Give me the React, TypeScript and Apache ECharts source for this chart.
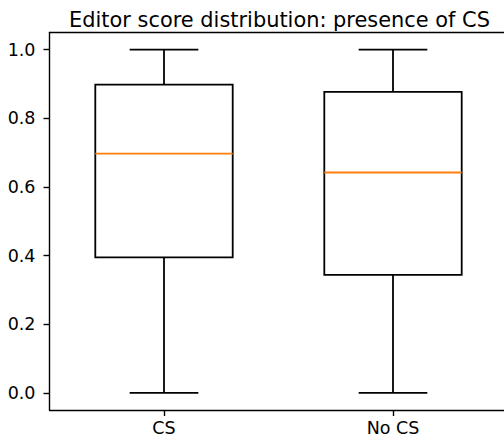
import React, { useEffect, useRef } from "react";
import * as echarts from "echarts";

const categories = ["CS", "No CS"];
const whiskerLow = [0.0, 0.0];
const q1 = [0.395, 0.344];
const median = [0.697, 0.642];
const q3 = [0.898, 0.877];
const whiskerHigh = [1.0, 1.0];
const yTicks = [0, 0.2, 0.4, 0.6, 0.8, 1.0];

const FONT = "DejaVu Sans";

export default function App() {
  const ref = useRef<HTMLDivElement>(null);
  useEffect(() => {
    if (!ref.current) return;
    const chart = echarts.init(ref.current, null, { renderer: "svg" });
    const data = categories.map((_, i) => [i, whiskerLow[i], q1[i], median[i], q3[i], whiskerHigh[i]]);
    const spine = { show: true, onZero: false, lineStyle: { color: "#000", width: 1.4 } };
    chart.setOption({
      animation: false,
      backgroundColor: "#fff",
      title: {
        text: "Editor score distribution: presence of CS",
        left: 274.5,
        textAlign: "center",
        top: 4,
        textStyle: { fontFamily: FONT, fontSize: 20.9, fontWeight: "normal", color: "#000" },
      },
      grid: {
        left: 49.5,
        right: 20.5,
        top: 32.5,
        bottom: 31,
        show: false,
      },
      xAxis: [
        {
          type: "category",
          data: categories,
          boundaryGap: true,
          axisLine: spine,
          axisTick: { show: true, alignWithLabel: true, length: 6, lineStyle: { color: "#000", width: 1.4 } },
          axisLabel: { margin: 9, fontFamily: FONT, fontSize: 17.5, color: "#000" },
          splitLine: { show: false },
        },
        {
          type: "category",
          position: "top",
          data: categories,
          boundaryGap: true,
          axisLine: spine,
          axisTick: { show: false },
          axisLabel: { show: false },
          splitLine: { show: false },
        },
      ],
      yAxis: {
        type: "value",
        min: -0.05,
        max: 1.05,
        axisLine: spine,
        axisTick: { show: true, length: 6, customValues: yTicks, lineStyle: { color: "#000", width: 1.4 } },
        axisLabel: {
          margin: 14,
          fontFamily: FONT,
          fontSize: 17.5,
          color: "#000",
          customValues: yTicks,
          formatter: (v: number) => v.toFixed(1),
        },
        splitLine: { show: false },
      },
      series: [
        {
          type: "custom",
          xAxisIndex: 0,
          data,
          encode: { x: 0, y: [1, 2, 3, 4, 5] },
          renderItem: (params: any, api: any) => {
            const idx = api.value(0);
            const band = api.size([1, 0])[0];
            const bw = band * 0.6;
            const cw = bw * 0.5;
            const pLow = api.coord([idx, api.value(1)]);
            const pQ1 = api.coord([idx, api.value(2)]);
            const pMed = api.coord([idx, api.value(3)]);
            const pQ3 = api.coord([idx, api.value(4)]);
            const pHigh = api.coord([idx, api.value(5)]);
            const cx = pLow[0];
            const ls = { stroke: "#000", lineWidth: 1.8, fill: "none" };
            return {
              type: "group",
              children: [
                { type: "rect", shape: { x: cx - bw / 2, y: pQ3[1], width: bw, height: pQ1[1] - pQ3[1] }, style: { stroke: "#000", lineWidth: 1.8, fill: "transparent" } },
                { type: "line", shape: { x1: cx, y1: pQ1[1], x2: cx, y2: pLow[1] }, style: ls },
                { type: "line", shape: { x1: cx, y1: pQ3[1], x2: cx, y2: pHigh[1] }, style: ls },
                { type: "line", shape: { x1: cx - cw / 2, y1: pLow[1], x2: cx + cw / 2, y2: pLow[1] }, style: ls },
                { type: "line", shape: { x1: cx - cw / 2, y1: pHigh[1], x2: cx + cw / 2, y2: pHigh[1] }, style: ls },
                { type: "line", shape: { x1: cx - bw / 2, y1: pMed[1], x2: cx + bw / 2, y2: pMed[1] }, style: { stroke: "#ff7f0e", lineWidth: 1.8 } },
              ],
            };
          },
        },
      ],
    });
    return () => chart.dispose();
  }, []);
  return (
    <div style={{ position: "absolute", left: 0, top: 0, width: 504, height: 441, overflow: "hidden" }}>
      <div ref={ref} style={{ width: 528, height: 441 }} />
    </div>
  );
}
